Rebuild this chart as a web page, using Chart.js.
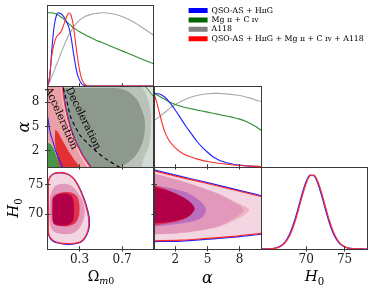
<!DOCTYPE html>
<html><head><meta charset="utf-8">
<script src="https://cdn.jsdelivr.net/npm/chart.js@4/dist/chart.umd.min.js"></script>
<style>
html,body{margin:0;padding:0;background:#fff;}
#wrap{position:relative;width:374px;height:291px;overflow:hidden;background:#fff;}
canvas{position:absolute;left:0;top:0;}
.lbl{position:absolute;font-family:'DejaVu Serif',serif;color:#000;white-space:nowrap;line-height:1;transform:translate(-50%,-50%);}
.lbl sub{font-size:0.68em;vertical-align:-0.35em;}
</style></head><body>
<div id="wrap">
<canvas id="p11" width="374" height="291"></canvas>
<canvas id="p21" width="374" height="291"></canvas>
<canvas id="p31" width="374" height="291"></canvas>
<canvas id="p22" width="374" height="291"></canvas>
<canvas id="p32" width="374" height="291"></canvas>
<canvas id="p33" width="374" height="291"></canvas>
<canvas id="leg" width="190" height="46" style="left:187px;top:5px;"></canvas>
<div class="lbl" style="left:84px;top:117.5px;font-size:10.5px;transform:translate(-50%,-50%) rotate(64deg);">Deceleration</div>
<div class="lbl" style="left:62px;top:118px;font-size:10.5px;transform:translate(-50%,-50%) rotate(66deg);">Acceleration</div>
<div class="lbl" style="left:101px;top:277px;font-size:14px;">Ω<sub><i>m</i>0</sub></div>
<div class="lbl" style="left:207.5px;top:278px;font-size:16px;"><i>α</i></div>
<div class="lbl" style="left:314.5px;top:278px;font-size:15px;"><i>H</i><sub>0</sub></div>
<div class="lbl" style="left:23.5px;top:126.5px;font-size:16px;transform:translate(-50%,-50%) rotate(-90deg);"><i>α</i></div>
<div class="lbl" style="left:15px;top:208px;font-size:15px;transform:translate(-50%,-50%) rotate(-90deg);"><i>H</i><sub>0</sub></div>
</div>
<script>
// ---------- legend ----------
const seriesNames = ['QSO-AS + H\u026A\u026AG', 'Mg \u026A\u026A + C \u026A\u1D20', 'A118', 'QSO-AS + H\u026A\u026AG + Mg \u026A\u026A + C \u026A\u1D20 + A118'];
const seriesColors = ['#0000ff', '#006400', '#808080', '#ff0000'];

// ---------- 1D marginals ----------
const omGrid  = [0,0.02,0.04,0.06,0.08,0.10,0.12,0.14,0.16,0.18,0.20,0.22,0.24,0.26,0.28,0.30,0.32,0.34,0.36,0.38,0.40,0.45,0.50,0.60,0.70,0.80,0.90,1.00];
const omBlue  = [0,0.12,0.50,0.80,0.95,1.00,0.99,0.97,0.93,0.87,0.80,0.67,0.48,0.30,0.16,0.08,0.03,0.01,0.003,0,0,0,0,0,0,0,0,0];
const omRed   = [0,0.15,0.42,0.57,0.66,0.70,0.73,0.79,0.87,0.95,1.00,0.97,0.84,0.62,0.40,0.22,0.10,0.04,0.012,0.003,0,0,0,0,0,0,0,0];
const omGray  = [0,0.06,0.13,0.20,0.28,0.35,0.43,0.50,0.57,0.64,0.70,0.75,0.80,0.84,0.87,0.90,0.92,0.94,0.955,0.965,0.975,0.99,1.00,0.99,0.95,0.88,0.79,0.69];
const omGreen = [1,1,1,0.995,0.985,0.97,0.95,0.93,0.90,0.875,0.85,0.825,0.80,0.78,0.76,0.74,0.725,0.71,0.695,0.68,0.665,0.63,0.60,0.54,0.48,0.42,0.36,0.30];

const alGrid  = [0,0.5,1,1.5,2,2.5,3,3.5,4,4.5,5,5.5,6,6.5,7,7.5,8,8.5,9,9.5,10];
const alBlue  = [1.00,0.99,0.95,0.87,0.77,0.66,0.55,0.45,0.35,0.27,0.20,0.14,0.10,0.07,0.05,0.035,0.025,0.018,0.012,0.008,0.005];
const alGreen = [1.00,0.96,0.92,0.88,0.85,0.825,0.805,0.79,0.775,0.76,0.745,0.73,0.715,0.70,0.685,0.67,0.65,0.625,0.59,0.55,0.50];
const alGray  = [0.63,0.68,0.74,0.80,0.85,0.89,0.925,0.95,0.97,0.985,0.995,1.00,1.00,0.995,0.99,0.98,0.97,0.955,0.935,0.91,0.89];
const alRedGrid = [0,0.25,0.5,0.75,1,1.25,1.5,2,2.5,3,3.5,4,4.5,5,6,7,8,9,10];
const alRed     = [1.00,0.88,0.74,0.60,0.48,0.40,0.34,0.26,0.20,0.16,0.135,0.11,0.09,0.075,0.05,0.033,0.021,0.012,0.006];

const h0Grid = [64,65,66,66.5,67,67.5,68,68.5,69,69.5,70,70.5,71,71.5,72,72.5,73,73.5,74,74.5,75,75.5,76,77,78];
const h0Blue = [0.0002,0.002,0.013,0.032,0.069,0.135,0.241,0.389,0.569,0.755,0.909,0.992,0.983,0.882,0.719,0.531,0.356,0.216,0.119,0.060,0.027,0.011,0.004,0.0004,0];
const h0Red  = [0.0001,0.0014,0.011,0.027,0.060,0.119,0.216,0.356,0.531,0.719,0.882,0.983,0.992,0.909,0.755,0.569,0.389,0.241,0.135,0.069,0.032,0.013,0.005,0.0005,0];

// ---------- tick values ----------
const omTicks = [0.3, 0.7];
const alTicks = [2, 5, 8];
const h0Ticks = [70, 75];

// ---------- Omega - alpha contours [Omega, alpha] ----------
const oaGreenOuter = [[-0.1,-1],[1.1,-1],[1.1,7.6],[1.03,8.0],[1.0,8.6],[0.96,9.3],[0.92,9.9],[0.87,10.4],[0.8,11],[-0.1,11]];
const oaGray95 = [[0.05,11],[0.78,11],[0.88,10],[0.94,8.5],[0.97,6.5],[0.97,4.5],[0.95,2.5],[0.9,1],[0.85,-1],[0.05,-1]];
const oaGray68 = [[0.1,9.75],[0.55,9.75],[0.69,9.65],[0.78,9.1],[0.845,8.2],[0.88,7.2],[0.91,6.0],[0.915,4.8],[0.9,3.4],[0.87,2.3],[0.82,1.3],[0.74,0.4],[0.66,-0.2],[0.6,-1],[0.1,-1]];
const oaGreen68 = [[-0.1,-1],[-0.1,3.1],[0.02,3.0],[0.06,2.6],[0.11,1.5],[0.16,0.5],[0.2,-1]];
const oaPinkOuter = [[-0.1,11],[0.135,11],[0.14,10.3],[0.148,9],[0.165,7.5],[0.19,6],[0.215,4.8],[0.25,3.5],[0.29,2.4],[0.33,1.4],[0.37,0.6],[0.41,-0.2],[0.43,-1],[0.135,-1],[0.13,-0.5],[0.115,0.2],[0.095,0.9],[0.075,1.6],[0.055,2.3],[0.03,2.8],[0.0,3.0],[-0.1,3.1]];
const oaPinkInner = [[-0.1,11],[0.12,11],[0.125,10.3],[0.132,9],[0.148,7.5],[0.172,6],[0.196,4.8],[0.23,3.5],[0.268,2.4],[0.307,1.4],[0.345,0.6],[0.385,-0.2],[0.4,-1],[0.14,-1],[0.135,-0.5],[0.12,0.2],[0.1,0.9],[0.08,1.6],[0.06,2.3],[0.035,2.8],[0.0,3.1],[-0.1,3.2]];
const oaRed68 = [[0.072,4.6],[0.09,4.4],[0.11,4.0],[0.135,3.4],[0.16,2.8],[0.19,2.1],[0.22,1.5],[0.25,0.9],[0.28,0.4],[0.31,-0.2],[0.32,-1],[0.13,-1],[0.12,-0.2],[0.1,0.6],[0.085,1.5],[0.075,2.5],[0.068,3.5]];
const oaBlueEdgeR = [[0.144,10.6],[0.144,10.3],[0.152,9],[0.169,7.5],[0.194,6],[0.219,4.8],[0.254,3.5],[0.294,2.4],[0.334,1.4],[0.374,0.6],[0.414,-0.2],[0.43,-0.6]];
const oaRedEdgeR  = [[0.139,10.6],[0.139,10.3],[0.147,9],[0.164,7.5],[0.189,6],[0.214,4.8],[0.249,3.5],[0.289,2.4],[0.329,1.4],[0.369,0.6],[0.409,-0.2],[0.425,-0.6]];
const oaBlueEdgeL = [[-0.01,6.4],[0.0,6.2],[0.025,4.2],[0.054,3.0],[0.075,2.0],[0.1,1.2],[0.125,0.5],[0.145,-0.2],[0.15,-0.6]];
const oaDecel = [[0.14,10.6],[0.145,10.0],[0.161,9.08],[0.186,7.82],[0.217,6.14],[0.264,4.88],[0.311,3.82],[0.39,2.77],[0.468,1.8],[0.562,0.88],[0.672,0],[0.7,-0.2]];

// ---------- Omega - H0 contours [Omega, H0] ----------
const ohBlueOuter = [[0.004,75.45],[0.023,76.3],[0.06,76.85],[0.107,77.0],[0.154,76.96],[0.2,76.68],[0.249,76.0],[0.296,74.6],[0.337,72.9],[0.368,71.25],[0.39,69.56],[0.393,68.15],[0.38,67.0],[0.349,65.9],[0.311,65.24],[0.249,64.95],[0.186,64.9],[0.107,65.07],[0.045,65.5],[0.01,66.46],[0.004,67.9],[0.004,70.1],[0.004,72.9],[0.004,75.45]];
const ohRedOuter  = [[0.007,75.5],[0.025,76.4],[0.062,76.95],[0.108,77.05],[0.155,77.0],[0.2,76.7],[0.247,76.0],[0.292,74.6],[0.332,72.9],[0.362,71.25],[0.384,69.56],[0.387,68.15],[0.375,67.0],[0.345,65.95],[0.308,65.32],[0.249,65.05],[0.186,65.0],[0.107,65.15],[0.047,65.6],[0.012,66.5],[0.007,67.9],[0.007,70.1],[0.007,72.9],[0.007,75.5]];
const ohMid = [[0.0226,72.93],[0.06,74.61],[0.139,75.17],[0.217,74.89],[0.28,73.77],[0.327,72.36],[0.349,70.68],[0.336,68.99],[0.296,67.59],[0.233,66.75],[0.139,66.64],[0.06,67.03],[0.0226,68.15],[0.016,70.68]];
const ohBlue68 = [[0.035,72.36],[0.06,73.2],[0.123,73.6],[0.192,73.37],[0.233,72.64],[0.255,71.24],[0.249,69.56],[0.217,68.43],[0.154,67.98],[0.076,68.15],[0.0414,68.99],[0.035,70.68]];
const ohRed68 = [[0.048,72.92],[0.0916,73.48],[0.17,73.77],[0.233,73.6],[0.28,72.92],[0.299,71.52],[0.296,69.84],[0.264,68.55],[0.2,67.98],[0.123,67.98],[0.06,68.32],[0.0445,69.56],[0.0445,72.48]];
const ohCore = [[0.05,72.64],[0.0916,73.3],[0.17,73.5],[0.222,73.15],[0.245,72.0],[0.248,70.4],[0.238,68.8],[0.186,68.15],[0.107,68.1],[0.056,68.45],[0.047,70.12]];

// ---------- alpha - H0 contours [alpha, H0] ----------
const ahBlueOuter = [[-0.5,77.7],[0,77.5],[2.5,76.4],[5,75.35],[7.5,74.25],[10,73.15],[10.6,72.9],[10.6,66.7],[10,66.6],[7.5,66.1],[5,65.75],[2.5,65.45],[0,65.35],[-0.5,65.35]];
const ahRedOuter  = [[-0.5,77.55],[0,77.35],[2.5,76.25],[5,75.2],[7.5,74.1],[10,73.0],[10.6,72.75],[10.6,66.85],[10,66.75],[7.5,66.25],[5,65.9],[2.5,65.6],[0,65.5],[-0.5,65.5]];
const ahSalmon = [[-0.5,76.9],[0,76.85],[2.86,75.45],[5.94,73.5],[7.6,72.1],[8.9,70.7],[7.6,69.0],[5.94,67.8],[2.86,66.85],[0,66.55],[-0.5,66.55]];
const ahMid = [[-0.5,76.9],[0,76.85],[2.86,75.45],[5.94,73.5],[7.3,72.2],[8.4,70.7],[7.3,69.1],[5.94,67.9],[2.86,66.9],[0,66.6],[-0.5,66.6]];
const ahBlue68 = [[-0.5,74.9],[0,74.9],[2.86,73.8],[4.4,72.1],[4.87,70.7],[4.4,69.3],[2.86,68.5],[0,67.9],[-0.5,67.9]];
const ahRed68 = [[-0.5,75.05],[0,74.95],[1.5,73.95],[3.0,72.45],[3.8,71.0],[3.2,69.5],[1.6,68.55],[0,68.15],[-0.5,68.15]];
const ahCore = [[-0.5,74.6],[0,74.6],[1.63,73.8],[3.17,72.36],[3.79,70.96],[3.17,69.56],[1.63,68.7],[0,68.45],[-0.5,68.45]];

// ---------- layout ----------
const W = 374, H = 291;
const COLX = [[47.6,154],[154,261],[261,367.6]];
const ROWY = [[5.5,86],[86,167],[167,249]];
const XAX_H = 22, YAX_W = 34;
const FRAME = '#3a3a3a';
const TICKFONT = {family:'DejaVu Serif', size:12};

const C = {
  blue:'#1f1fff', red:'#ff2a2a', green:'#2e8b2e', gray:'#a8a8a8',
  pinkLight:'rgb(244,214,227)', pinkMid:'rgb(226,152,187)', salmon:'rgb(240,178,188)',
  purple:'rgb(186,110,190)', red68:'rgb(228,48,78)', core:'rgb(178,0,72)',
  bgGray:'rgb(226,227,226)', g95:'rgb(212,218,212)', gray95:'rgb(186,194,186)', gray68:'rgb(141,153,141)',
  green68:'rgb(70,148,70)', bandOuter:'rgb(243,204,208)', bandInner:'rgb(233,160,166)', bandRed:'rgb(226,48,52)'
};

function P(a){ return a.map(p => ({x:p[0], y:p[1]})); }
function XY(xs, ys){ return xs.map((x,i) => ({x:x, y:ys[i]})); }
function curve(data, color, w){ return {data, borderColor:color, borderWidth:w||1.1, fill:false, pointRadius:0, tension:0, cubicInterpolationMode:'monotone', clip:0}; }
function region(data, fillColor){ return {data, backgroundColor:fillColor, borderColor:'rgba(0,0,0,0)', borderWidth:0, fill:'shape', pointRadius:0, tension:0.3, clip:0}; }
function edge(data, color, w, dash){ return {data, borderColor:color, borderWidth:w||1.2, borderDash:dash||[], fill:false, pointRadius:0, tension:0.3, clip:0}; }

// main axis: labels + outward half of the tick
function axisCfg(kind, range, ticks, showLabels, pad){
  const horiz = (kind === 'x');
  return {
    type:'linear', position: horiz ? 'bottom' : 'left', min:range[0], max:range[1], bounds:'data', weight:1,
    afterFit: s => { if (horiz) s.height = XAX_H; else s.width = YAX_W; },
    afterBuildTicks: s => { s.ticks = ticks.map(v => ({value:v})); },
    grid:{display: ticks.length > 0, drawOnChartArea:false, drawTicks:true, tickLength:2.5, color:FRAME, lineWidth:1, z:1},
    border:{display:true, color:FRAME, width:1, z:1},
    ticks:{display:showLabels, autoSkip:false, maxRotation:0, font:TICKFONT, color:'#1a1a1a', padding:pad, crossAlign:'near',
           callback: v => String(v)}
  };
}
// companion axis: inward half of the tick
function innerTicks(kind, range, ticks){
  const horiz = (kind === 'x');
  return {
    type:'linear', position: horiz ? 'bottom' : 'left', min:range[0], max:range[1], bounds:'data', weight:0,
    afterFit: s => { if (horiz) s.height = 0; else s.width = 0; },
    afterBuildTicks: s => { s.ticks = ticks.map(v => ({value:v})); },
    grid:{display: ticks.length > 0, drawOnChartArea:false, drawTicks:true, tickLength:-2.8, color:FRAME, lineWidth:1, z:1},
    border:{display:false, z:1},
    ticks:{display:false}
  };
}
function frameAxis(pos){
  const horiz = (pos === 'top');
  return {type:'linear', position:pos, min:0, max:1, display:true,
    afterFit: s => { if (horiz) s.height = 0; else s.width = 0; },
    grid:{display:false, z:1}, border:{display:true, color:FRAME, width:1, z:1}, ticks:{display:false}};
}

function panel(id, col, row, xr, xt, xLab, yr, yt, yLab, yPad, layers){
  const [l, r] = COLX[col], [t, b] = ROWY[row];
  new Chart(document.getElementById(id), {
    type:'line',
    data:{datasets: layers.slice().reverse()},
    options:{
      responsive:false, animation:false, events:[], devicePixelRatio:1,
      layout:{padding:{left:l - YAX_W, top:t, right:W - r, bottom:H - b - XAX_H}},
      plugins:{legend:{display:false}, tooltip:{enabled:false}},
      elements:{line:{capBezierPoints:false}, point:{radius:0}},
      scales:{
        x: axisCfg('x', xr, xt, xLab, 1.0),
        y: axisCfg('y', yr, yt, yLab, yPad),
        xi: innerTicks('x', xr, xt),
        yi: innerTicks('y', yr, yt),
        x2: frameAxis('top'),
        y2: frameAxis('right')
      }
    }
  });
}

const OMR = [0, 1], ALR = [0, 10], H0R = [64.1, 78], MR = [0, 1.1];

panel('p11', 0, 0, OMR, omTicks, false, MR, [], false, 2, [
  curve(XY(omGrid, omGray), C.gray),
  curve(XY(omGrid, omGreen), C.green),
  curve(XY(omGrid, omBlue), C.blue),
  curve(XY(omGrid, omRed), C.red)
]);
panel('p21', 0, 1, OMR, omTicks, false, ALR, alTicks, true, 5.6, [
  region(P([[-0.1,-1],[1.1,-1],[1.1,11],[-0.1,11]]), C.bgGray),
  Object.assign(region(P(oaGreenOuter), C.g95), {borderColor:C.green, borderWidth:1}),
  region(P(oaGray95), C.gray95),
  region(P(oaGray68), C.gray68),
  region(P(oaGreen68), C.green68),
  region(P(oaPinkOuter), C.bandOuter),
  region(P(oaPinkInner), C.bandInner),
  region(P(oaRed68), C.bandRed),
  edge(P(oaBlueEdgeL), C.blue, 1.1),
  edge(P(oaBlueEdgeR), C.blue, 1.1),
  edge(P(oaRedEdgeR), C.red, 1.1),
  edge(P(oaDecel), '#000', 1.1, [4,3])
]);
panel('p31', 0, 2, OMR, omTicks, true, H0R, h0Ticks, true, 1.8, [
  region(P(ohBlueOuter), C.pinkLight),
  region(P(ohMid), C.pinkMid),
  region(P(ohBlue68), C.purple),
  region(P(ohRed68), C.red68),
  region(P(ohCore), C.core),
  edge(P(ohBlueOuter), C.blue, 1.2),
  edge(P(ohRedOuter), C.red, 1.2)
]);
panel('p22', 1, 1, ALR, alTicks, false, MR, [], false, 2, [
  curve(XY(alGrid, alGray), C.gray),
  curve(XY(alGrid, alGreen), C.green),
  curve(XY(alGrid, alBlue), C.blue),
  curve(XY(alRedGrid, alRed), C.red)
]);
panel('p32', 1, 2, ALR, alTicks, true, H0R, h0Ticks, false, 2, [
  region(P(ahBlueOuter), C.pinkLight),
  region(P(ahSalmon), C.salmon),
  region(P(ahMid), C.pinkMid),
  region(P(ahBlue68), C.purple),
  region(P(ahRed68), C.red68),
  region(P(ahCore), C.core),
  edge(P(ahBlueOuter), C.blue, 1.2),
  edge(P(ahRedOuter), C.red, 1.2)
]);
panel('p33', 2, 2, H0R, h0Ticks, true, MR, [], false, 2, [
  curve(XY(h0Grid, h0Blue), C.blue, 1.2),
  curve(XY(h0Grid, h0Red), C.red, 1.2)
]);

new Chart(document.getElementById('leg'), {
  type:'line',
  data:{datasets: seriesNames.map((n,i) => ({label:n, data:[], backgroundColor:seriesColors[i], borderColor:seriesColors[i], borderWidth:0}))},
  options:{
    responsive:false, animation:false, events:[], devicePixelRatio:1,
    layout:{padding:0},
    scales:{x:{display:false}, y:{display:false}},
    plugins:{tooltip:{enabled:false},
      legend:{display:true, position:'left', align:'start', maxWidth:400,
        labels:{boxWidth:19, boxHeight:5, padding:1.6, color:'#000', font:{family:'DejaVu Serif', size:7.8}}}}
  }
});
</script>
</body></html>
